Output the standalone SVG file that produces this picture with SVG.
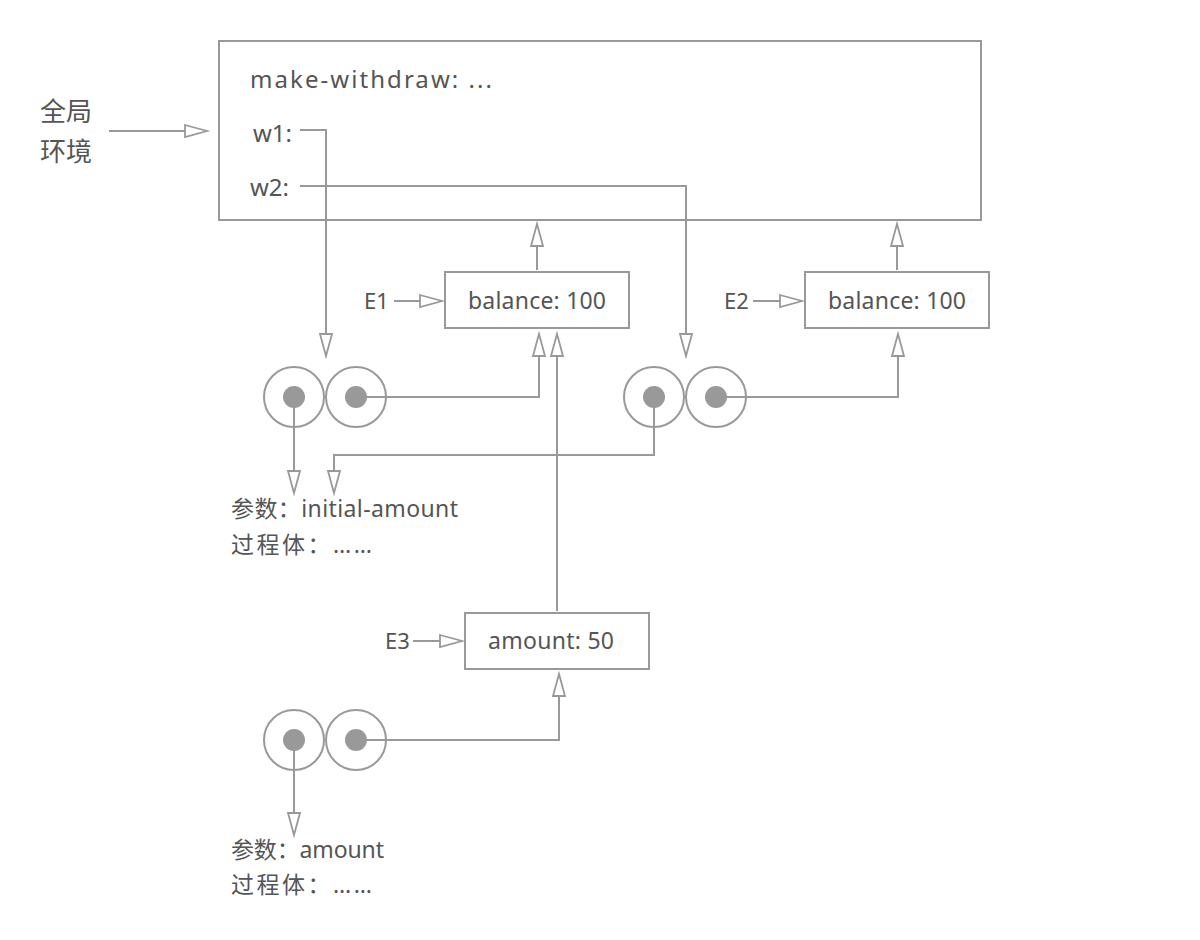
<svg xmlns="http://www.w3.org/2000/svg" width="1200" height="940" viewBox="0 0 1200 940">
<defs>
<marker id="arr" markerUnits="userSpaceOnUse" markerWidth="26" markerHeight="16" refX="23" refY="7" orient="auto" overflow="visible">
<path d="M1,1 L23,7 L1,13 Z" fill="#fff" stroke="#999" stroke-width="1.8" stroke-linejoin="miter"/>
</marker>
</defs>
<style>
.box{fill:#fff;stroke:#999;stroke-width:2}
.t{font-family:"Noto Sans","Noto Sans CJK SC",sans-serif;font-size:23px;fill:#555}
.lbl{font-family:"Noto Sans","Noto Sans CJK SC",sans-serif;font-size:22px;fill:#555}
.ring{fill:#fff;stroke:#999;stroke-width:2}
.dot{fill:#999}
.c{fill:none;stroke:#999;stroke-width:2}
.a{fill:none;stroke:#999;stroke-width:2;marker-end:url(#arr)}
</style>
<rect width="1200" height="940" fill="#fff"/>
<g id="global-label">
<text class="t" x="40" y="121" style="font-size:26px">全局</text>
<text class="t" x="40" y="161" style="font-size:26px">环境</text>
</g>
<g id="global-env">
<rect class="box" x="219" y="41" width="762" height="179"/>
<text class="t" x="250" y="88" style="font-size:24px" textLength="242" lengthAdjust="spacing">make-withdraw: ...</text>
<text class="t" x="253" y="142" style="font-size:24px">w1:</text>
<text class="t" x="250" y="196" style="font-size:24px">w2:</text>
</g>
<g id="E1">
<rect class="box" x="445" y="272" width="184" height="56"/>
<text class="t" x="468" y="309" textLength="138" lengthAdjust="spacing">balance: 100</text>
<text class="lbl" x="364" y="309">E1</text>
</g>
<g id="E2">
<rect class="box" x="805" y="272" width="184" height="56"/>
<text class="t" x="828" y="309" textLength="138" lengthAdjust="spacing">balance: 100</text>
<text class="lbl" x="724" y="309">E2</text>
</g>
<g id="E3">
<rect class="box" x="465" y="613" width="184" height="56"/>
<text class="t" x="488" y="649" textLength="126" lengthAdjust="spacing">amount: 50</text>
<text class="lbl" x="385" y="649">E3</text>
</g>
<g id="proc1">
<circle class="ring" cx="294" cy="397" r="30"/>
<circle class="ring" cx="356" cy="397" r="30"/>
<circle class="dot" cx="294" cy="397" r="11"/>
<circle class="dot" cx="356" cy="397" r="11"/>
</g>
<g id="proc2">
<circle class="ring" cx="654" cy="397" r="30"/>
<circle class="ring" cx="716" cy="397" r="30"/>
<circle class="dot" cx="654" cy="397" r="11"/>
<circle class="dot" cx="716" cy="397" r="11"/>
</g>
<g id="proc3">
<circle class="ring" cx="294" cy="740" r="30"/>
<circle class="ring" cx="356" cy="740" r="30"/>
<circle class="dot" cx="294" cy="740" r="11"/>
<circle class="dot" cx="356" cy="740" r="11"/>
</g>
<g id="code1">
<text class="t" x="231" y="517" textLength="227" lengthAdjust="spacing">参数：initial-amount</text>
<text class="t" x="231" y="553" textLength="141" lengthAdjust="spacing">过程体：……</text>
</g>
<g id="code2">
<text class="t" x="231" y="858" textLength="153" lengthAdjust="spacing">参数：amount</text>
<text class="t" x="231" y="893" textLength="141" lengthAdjust="spacing">过程体：……</text>
</g>
<g id="connectors">
<path class="a" d="M109,131 H207"/>
<path class="a" d="M300,130 H326 V356"/>
<path class="a" d="M300,186 H686 V356"/>
<path class="a" d="M537,270 V224"/>
<path class="a" d="M897,270 V224"/>
<path class="a" d="M394,301 H442"/>
<path class="a" d="M753,301 H802"/>
<path class="a" d="M413,641 H462"/>
<path class="a" d="M356,397 H539 V334"/>
<path class="a" d="M716,397 H898 V334"/>
<path class="a" d="M557,611 V334"/>
<path class="a" d="M294,397 V493"/>
<path class="a" d="M654,397 V455 H334 V493"/>
<path class="a" d="M356,740 H559 V674"/>
<path class="a" d="M294,740 V835"/>
</g>
</svg>
